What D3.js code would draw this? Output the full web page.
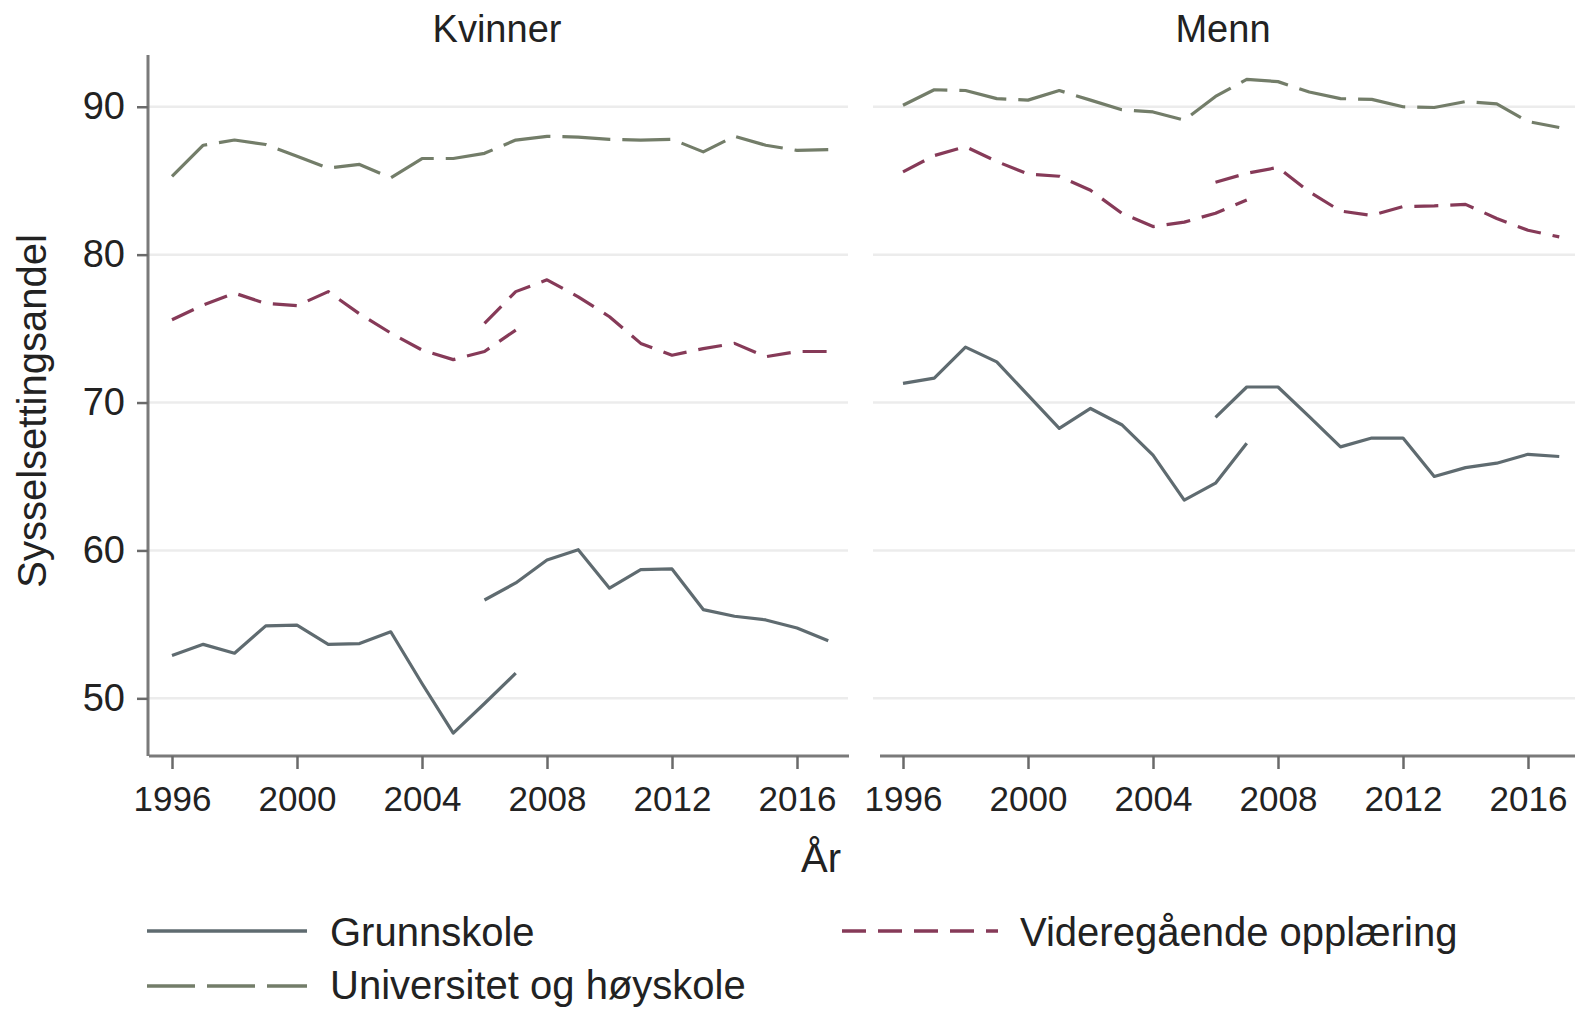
<!DOCTYPE html>
<html><head><meta charset="utf-8">
<script src="https://cdn.jsdelivr.net/npm/d3@7"></script>
<style>
html,body{margin:0;padding:0;background:#fff;}
svg{display:block;}
text{font-family:"Liberation Sans",Arial,sans-serif;fill:#222;}
</style></head>
<body>
<svg id="c" width="1575" height="1012"></svg>
<script>
// ---- data ----
const panels = ["Kvinner", "Menn"];
const yearsA = [1996,1997,1998,1999,2000,2001,2002,2003,2004,2005,2006,2007];
const yearsB = [2006,2007,2008,2009,2010,2011,2012,2013,2014,2015,2016,2017];
const yearsAll = [1996,1997,1998,1999,2000,2001,2002,2003,2004,2005,2006,2007,2008,2009,2010,2011,2012,2013,2014,2015,2016,2017];
const xTicks = [1996,2000,2004,2008,2012,2016];
const yTicks = [50,60,70,80,90];

// Kvinner
const kGrunnA = [52.9,53.65,53.05,54.9,54.95,53.65,53.7,54.5,51.0,47.65,49.65,51.7];
const kGrunnB = [56.65,57.8,59.35,60.05,57.45,58.7,58.75,56.0,55.55,55.3,54.75,53.9];
const kVgsA   = [75.6,76.6,77.4,76.7,76.55,77.5,76.0,74.7,73.55,72.9,73.45,74.9];
const kVgsB   = [75.35,77.5,78.3,77.15,75.8,74.0,73.2,73.65,74.0,73.1,73.45,73.45];
const kUni    = [85.3,87.4,87.75,87.45,86.65,85.85,86.1,85.2,86.5,86.5,86.85,87.75,88.0,87.95,87.8,87.75,87.8,86.95,88.0,87.4,87.05,87.1];
// Menn
const mGrunnA = [71.3,71.65,73.75,72.75,70.5,68.25,69.6,68.5,66.45,63.4,64.55,67.25];
const mGrunnB = [69.0,71.05,71.05,69.05,67.0,67.6,67.6,65.0,65.6,65.9,66.5,66.35];
const mVgsA   = [85.6,86.7,87.3,86.3,85.45,85.3,84.35,82.8,81.9,82.2,82.8,83.7];
const mVgsB   = [84.9,85.5,85.9,84.25,82.95,82.65,83.25,83.3,83.4,82.45,81.65,81.2];
const mUni    = [90.1,91.15,91.1,90.55,90.45,91.1,90.45,89.8,89.65,89.1,90.7,91.85,91.7,91.0,90.55,90.5,90.0,89.95,90.35,90.2,89.0,88.6];

const legendLabels = ["Grunnskole","Videregående opplæring","Universitet og høyskole"];
const yTitle = "Sysselsettingsandel";
const xTitle = "År";

// ---- styles ----
const colGrunn = "#5f6b70";
const colVgs = "#863a58";
const colUni = "#737d69";
const dashVgs = "24,12";
const dashUni = "48,12";

const svg = d3.select("#c");
const panelX = [[149,849],[880,1580]];
const xDomain = [1995.264, 2017.664];
const y = d3.scaleLinear().domain([46.1, 93.5]).range([756, 55]);

const series = [
  [ {x:yearsA,v:kGrunnA,c:colGrunn,d:null}, {x:yearsB,v:kGrunnB,c:colGrunn,d:null},
    {x:yearsA,v:kVgsA,c:colVgs,d:dashVgs}, {x:yearsB,v:kVgsB,c:colVgs,d:dashVgs},
    {x:yearsAll,v:kUni,c:colUni,d:dashUni} ],
  [ {x:yearsA,v:mGrunnA,c:colGrunn,d:null}, {x:yearsB,v:mGrunnB,c:colGrunn,d:null},
    {x:yearsA,v:mVgsA,c:colVgs,d:dashVgs}, {x:yearsB,v:mVgsB,c:colVgs,d:dashVgs},
    {x:yearsAll,v:mUni,c:colUni,d:dashUni} ]
];

panels.forEach((name, i) => {
  const x = d3.scaleLinear().domain(xDomain).range(panelX[i]);
  const g = svg.append("g");
  const gx0 = i === 0 ? 149 : 873;
  const gx1 = i === 0 ? 848 : 1575;
  // grid
  g.selectAll("line.grid").data(yTicks).join("line")
    .attr("x1", gx0).attr("x2", gx1)
    .attr("y1", d => y(d)).attr("y2", d => y(d))
    .attr("stroke", "#ececec").attr("stroke-width", 2.5);
  // lines
  const line = d3.line().x(d => x(d[0])).y(d => y(d[1]));
  series[i].forEach(s => {
    const pts = s.x.map((yr, k) => [yr, s.v[k]]);
    g.append("path").attr("d", line(pts))
      .attr("fill", "none").attr("stroke", s.c).attr("stroke-width", 3.2)
      .attr("stroke-linejoin", "round")
      .attr("stroke-dasharray", s.d);
  });
  // x axis
  const xa = g.append("g").attr("transform", "translate(0,756)")
    .call(d3.axisBottom(x).tickValues(xTicks).tickFormat(d3.format("d")).tickSize(13).tickPadding(17));
  xa.select(".domain").attr("stroke", "#7a7a7a").attr("stroke-width", 3)
    .attr("d", `M${panelX[i][0]},0H${panelX[i][1]}`);
  xa.selectAll(".tick line").attr("stroke", "#6a6a6a").attr("stroke-width", 2.5);
  xa.selectAll(".tick text").style("font-size", "35px").style("font-family", "'Liberation Sans',Arial,sans-serif").attr("fill", "#222");
  // y axis only on left
  if (i === 0) {
    const ya = g.append("g").attr("transform", "translate(148,0)")
      .call(d3.axisLeft(y).tickValues(yTicks).tickSize(11).tickPadding(12));
    ya.select(".domain").attr("stroke", "#7a7a7a").attr("stroke-width", 3)
      .attr("d", "M0,55V756");
    ya.selectAll(".tick line").attr("stroke", "#6a6a6a").attr("stroke-width", 2.5);
    ya.selectAll(".tick text").style("font-size", "38px").style("font-family", "'Liberation Sans',Arial,sans-serif").attr("fill", "#333");
  }
  // panel title
  svg.append("text").attr("x", (i === 0 ? 497 : 1223)).attr("y", 42)
    .attr("text-anchor", "middle").style("font-size", "38px").text(name);
});

// axis titles
svg.append("text").attr("transform", "translate(46,411) rotate(-90)")
  .attr("text-anchor", "middle").style("font-size", "40px").text(yTitle);
svg.append("text").attr("x", 821).attr("y", 872)
  .attr("text-anchor", "middle").style("font-size", "40px").text(xTitle);

// legend
const legend = [
  {label: legendLabels[0], c: colGrunn, d: null, x1: 147, x2: 307, y: 931, tx: 330, dy: 15},
  {label: legendLabels[1], c: colVgs, d: dashVgs, x1: 842, x2: 998, y: 931, tx: 1020, dy: 15},
  {label: legendLabels[2], c: colUni, d: dashUni, x1: 147, x2: 307, y: 986, tx: 330, dy: 13}
];
const lg = svg.append("g");
legend.forEach(l => {
  lg.append("line").attr("x1", l.x1).attr("x2", l.x2).attr("y1", l.y).attr("y2", l.y)
    .attr("stroke", l.c).attr("stroke-width", 3.5).attr("stroke-dasharray", l.d);
  lg.append("text").attr("x", l.tx).attr("y", l.y + l.dy).style("font-size", "40px").text(l.label);
});
</script>
</body></html>
